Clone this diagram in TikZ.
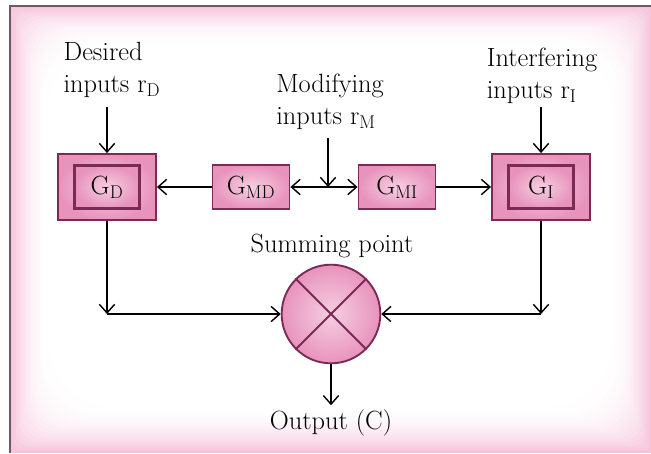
\documentclass[tikz,border=0pt]{standalone}
\usepackage{tikz}
\usetikzlibrary{arrows.meta}
\definecolor{glow}{HTML}{F6C4DA}
\definecolor{boxline}{HTML}{7A2A55}
\definecolor{boxfill}{HTML}{E893BC}
\definecolor{boxlight}{HTML}{F6CFE1}
\definecolor{framegray}{HTML}{6E5A64}

\begin{document}
\begin{tikzpicture}[x=0.3mm, y=-0.3mm, >={Straight Barb[length=2.6mm,width=4.6mm]},
  line width=1.2pt,
  every node/.style={font=\fontsize{22.5}{27}\selectfont},
  outerbox/.style={draw=boxline, line width=1.6pt, inner color=boxlight, outer color=boxfill, minimum width=29.4mm, minimum height=19.8mm},
  innerbox/.style={draw=boxline, line width=1.8pt, inner color=boxlight, outer color=boxfill, minimum width=19.5mm, minimum height=12.9mm, inner sep=0pt},
  gbox/.style={draw=boxline, line width=1.6pt, inner color=boxlight, outer color=boxfill, minimum width=23.1mm, minimum height=13.2mm, inner sep=0pt},
  sumpt/.style={circle, draw=boxline, line width=1.6pt, inner color=boxlight, outer color=boxfill, minimum size=29.6mm, inner sep=0pt},
  lbl/.style={align=left, inner sep=0pt}]
  \useasboundingbox (0,0) rectangle (651,453);
  % pink glow round the edges
  \fill[white] (0,0) rectangle (651,453);
  \foreach \i in {0,...,19}
    \fill[glow!\the\numexpr (20-\i)*(20-\i)/4\relax!white, rounded corners=3*\i] (10+2*\i,6+2*\i) rectangle (651-2*\i,453-2.4*\i);
  \draw[framegray, line width=0.9pt] (10,453) -- (10,6) -- (651,6);
  % input labels
  \node[lbl] (des) at (112,70) {Desired\\inputs r\textsubscript{D}};
  \node[lbl] (mod) at (330,102) {Modifying\\inputs r\textsubscript{M}};
  \node[lbl] (int) at (542,76) {Interfering\\inputs r\textsubscript{I}};
  % blocks
  \node[outerbox] (gdo) at (107,187) {};
  \node[innerbox] (gd) at (107,187) {G\textsubscript{D}};
  \node[gbox] (gmd) at (251,187) {G\textsubscript{MD}};
  \node[gbox] (gmi) at (397,187) {G\textsubscript{MI}};
  \node[outerbox] (gio) at (541,187) {};
  \node[innerbox] (gi) at (541,187) {G\textsubscript{I}};
  % summing point
  \node[sumpt] (sum) at (331,314) {};
  \draw[boxline, line width=1.6pt] (sum.north west) -- (sum.south east);
  \draw[boxline, line width=1.6pt] (sum.north east) -- (sum.south west);
  \node (sumlbl) at (332,246) {Summing point};
  \node (out) at (331,423) {Output (C)};
  % inputs
  \coordinate (din) at (107,107);
  \coordinate (iin) at (541,107);
  \coordinate (min) at (328,138);
  \coordinate (mj) at (328,187);
  \draw[->] (din) -- (gdo.north);
  \draw[->] (iin) -- (gio.north);
  \draw[->] (min) -- (mj);
  \draw[->] (mj) -- (gmd.east);
  \draw[->] (mj) -- (gmi.west);
  \draw[->] (gmd.west) -- (gdo.east);
  \draw[->] (gmi.east) -- (gio.west);
  % to the summing point
  \coordinate (lc) at (107,314);
  \coordinate (rc) at (541,314);
  \draw[->] (gdo.south) -- (lc);
  \draw[->] (lc) -- (sum.west);
  \draw[->] (gio.south) -- (rc);
  \draw[->] (rc) -- (sum.east);
  \draw[->] (sum.south) -- (out.north);
\end{tikzpicture}
\end{document}
